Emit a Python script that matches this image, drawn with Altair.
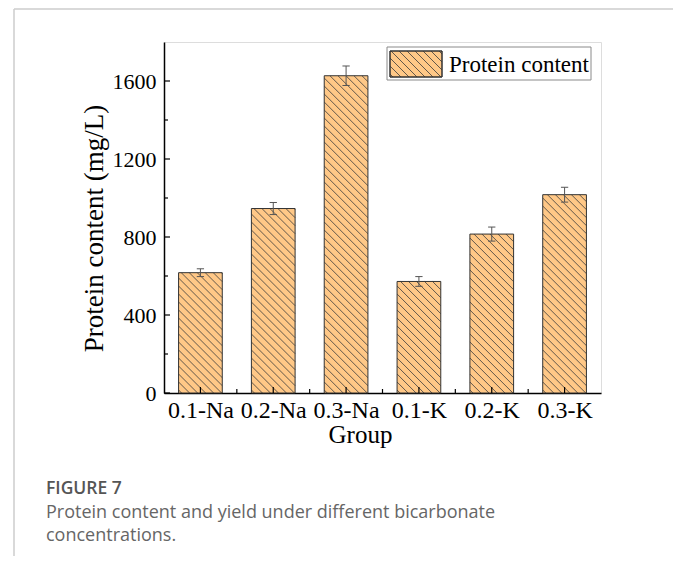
import json
import numpy as np
import pandas as pd
import altair as alt

# ---- data ----
groups = ["0.1-Na", "0.2-Na", "0.3-Na", "0.1-K", "0.2-K", "0.3-K"]
protein = [617, 946, 1627, 572, 815, 1017]
errors = [20, 31, 50, 25, 36, 38]
y_major = [0, 400, 800, 1200, 1600]
y_minor = [200, 600, 1000, 1400]

W, H = 437, 351
Y_MAX = 1800
PX_X = W / 6.0
PX_Y = H / Y_MAX
HALF = 0.3
FILL = "#FFC887"
SERIF = "Liberation Serif"

idx = list(range(len(groups)))
bars = pd.DataFrame({
    "group": groups, "i": idx, "v": protein, "e": errors,
})
bars["zero"] = 0
bars["x0"] = bars["i"] - HALF
bars["x1"] = bars["i"] + HALF
bars["lo"] = bars["v"] - bars["e"]
bars["hi"] = bars["v"] + bars["e"]
bars["c0"] = bars["i"] - 0.05
bars["c1"] = bars["i"] + 0.05


def hatch_segments(w, h, spacing=8.0):
    segs = []
    for c in np.arange(-h + 3, w, spacing):
        u0 = max(0.0, c)
        u1 = min(w, h + c)
        if u1 <= u0:
            continue
        segs.append((u0, u0 - c, u1, u1 - c))
    return segs


rows = []
for i, v in zip(idx, protein):
    for u0, w0, u1, w1 in hatch_segments(2 * HALF * PX_X, v * PX_Y):
        rows.append({"x": i - HALF + u0 / PX_X, "y": v - w0 / PX_Y,
                     "x2": i - HALF + u1 / PX_X, "y2": v - w1 / PX_Y})
hatch = pd.DataFrame(rows)

# legend swatch hatch (pixel space)
LX0, LY0, LW, LH = 226, 9, 52, 26
lrows = []
for u0, w0, u1, w1 in hatch_segments(LW, LH):
    lrows.append({"x": LX0 + u0, "y": LY0 + w0, "x2": LX0 + u1, "y2": LY0 + w1})
lhatch = pd.DataFrame(lrows)

xscale = alt.Scale(domain=[-0.5, 5.5], nice=False, zero=False)
yscale = alt.Scale(domain=[0, Y_MAX], nice=False)

label_expr = json.dumps(groups) + "[datum.value]"

x_axis = alt.Axis(values=idx, labelExpr=label_expr, title="Group", ticks=False,
                  grid=False, labelFont=SERIF, labelFontSize=24, labelColor="black",
                  labelPadding=5, titleFont=SERIF, titleFontSize=25,
                  titleFontWeight="normal", titleColor="black", titlePadding=0,
                  titleX=196, domainColor="black", domainWidth=1.5)
y_axis = alt.Axis(values=y_major, format="d", title="Protein content (mg/L)", ticks=False,
                  grid=False, labelFont=SERIF, labelFontSize=22, labelColor="black",
                  labelPadding=8, titleFont=SERIF, titleFontSize=27,
                  titleFontWeight="normal", titleColor="black", titlePadding=4,
                  titleY=186, domainColor="black", domainWidth=1.5)

base = alt.Chart(bars)

bar_fill = base.mark_rect(fill=FILL).encode(
    x=alt.X("x0:Q", scale=xscale, axis=x_axis),
    x2="x1:Q",
    y=alt.Y("v:Q", scale=yscale, axis=y_axis),
    y2="zero:Q",
)

hatch_layer = alt.Chart(hatch).mark_rule(color="#3a3a3a", strokeWidth=0.8).encode(
    x=alt.X("x:Q", scale=xscale), x2="x2:Q",
    y=alt.Y("y:Q", scale=yscale), y2="y2:Q",
)

bar_edge = base.mark_rect(fill=None, stroke="#333333", strokeWidth=1).encode(
    x=alt.X("x0:Q", scale=xscale), x2="x1:Q",
    y=alt.Y("v:Q", scale=yscale), y2="zero:Q",
)

err_v = base.mark_rule(color="#555555", strokeWidth=1).encode(
    x=alt.X("i:Q", scale=xscale), y=alt.Y("lo:Q", scale=yscale), y2="hi:Q")
err_hi = base.mark_rule(color="#555555", strokeWidth=1).encode(
    x=alt.X("c0:Q", scale=xscale), x2="c1:Q", y=alt.Y("hi:Q", scale=yscale))
err_lo = base.mark_rule(color="#555555", strokeWidth=1).encode(
    x=alt.X("c0:Q", scale=xscale), x2="c1:Q", y=alt.Y("lo:Q", scale=yscale))

# inward ticks
ymaj = alt.Chart(pd.DataFrame({"t": y_major})).mark_rule(color="black", strokeWidth=1.2).encode(
    y=alt.Y("t:Q", scale=yscale), x=alt.value(0), x2=alt.value(6))
ymin = alt.Chart(pd.DataFrame({"t": y_minor})).mark_rule(color="black", strokeWidth=1.2).encode(
    y=alt.Y("t:Q", scale=yscale), x=alt.value(0), x2=alt.value(4))
xmaj = alt.Chart(pd.DataFrame({"t": idx})).mark_rule(color="black", strokeWidth=1.2).encode(
    x=alt.X("t:Q", scale=xscale), y=alt.value(H), y2=alt.value(H - 6))
xmin = alt.Chart(pd.DataFrame({"t": [i + 0.5 for i in idx[:-1]]})).mark_rule(
    color="black", strokeWidth=1.2).encode(
    x=alt.X("t:Q", scale=xscale), y=alt.value(H), y2=alt.value(H - 4))

one = pd.DataFrame({"a": [0]})

legend_box = alt.Chart(one).mark_rect(fill="white", stroke="#8a8a8a", strokeWidth=1).encode(
    x=alt.value(223), x2=alt.value(427), y=alt.value(5), y2=alt.value(38))
legend_sw = alt.Chart(one).mark_rect(fill=FILL, stroke="#333333", strokeWidth=1).encode(
    x=alt.value(LX0), x2=alt.value(LX0 + LW), y=alt.value(LY0), y2=alt.value(LY0 + LH))
legend_hatch = alt.Chart(lhatch).mark_rule(color="#3a3a3a", strokeWidth=0.8).encode(
    x=alt.X("x:Q", scale=None), x2="x2:Q",
    y=alt.Y("y:Q", scale=None), y2="y2:Q")
legend_sw_edge = alt.Chart(one).mark_rect(fill=None, stroke="#333333", strokeWidth=1).encode(
    x=alt.value(LX0), x2=alt.value(LX0 + LW), y=alt.value(LY0), y2=alt.value(LY0 + LH))
legend_text = alt.Chart(one).mark_text(text="Protein content", font=SERIF, fontSize=23,
                                       align="left", baseline="alphabetic", color="black").encode(
    x=alt.value(285), y=alt.value(30))

# outer panel border
BORDER = "#cccccc"
b_top = alt.Chart(one).mark_rule(color=BORDER, strokeWidth=1.5).encode(
    x=alt.value(-150), x2=alt.value(511), y=alt.value(-33))
b_left = alt.Chart(one).mark_rule(color=BORDER, strokeWidth=1.5).encode(
    x=alt.value(-150), y=alt.value(-33), y2=alt.value(520))
b_right = alt.Chart(one).mark_rule(color=BORDER, strokeWidth=1.5).encode(
    x=alt.value(511), y=alt.value(-33), y2=alt.value(520))

cap_font = "Open Sans"
cap1 = alt.Chart(one).mark_text(text="FIGURE 7", font=cap_font, fontSize=17.5, fontWeight=600,
                                align="left", baseline="alphabetic", color="#555555").encode(
    x=alt.value(-118), y=alt.value(452))
cap2 = alt.Chart(one).mark_text(text="Protein content and yield under different bicarbonate",
                                font=cap_font, fontSize=18, align="left",
                                baseline="alphabetic", color="#666666").encode(
    x=alt.value(-118), y=alt.value(476))
cap3 = alt.Chart(one).mark_text(text="concentrations.", font=cap_font, fontSize=18,
                                align="left", baseline="alphabetic", color="#666666").encode(
    x=alt.value(-118), y=alt.value(499))

chart = alt.layer(
    b_top, b_left, b_right,
    bar_fill, hatch_layer, bar_edge, err_v, err_hi, err_lo,
    ymaj, ymin, xmaj, xmin,
    legend_box, legend_sw, legend_hatch, legend_sw_edge, legend_text,
    cap1, cap2, cap3,
).properties(
    width=W, height=H,
    autosize=alt.AutoSizeParams(type="none"),
    padding={"left": 156, "top": 34, "right": 72, "bottom": 163},
).configure_view(stroke="black", strokeWidth=1.5).configure(background="white")

chart.save("out.html", embed_options={"renderer": "svg", "actions": False})
